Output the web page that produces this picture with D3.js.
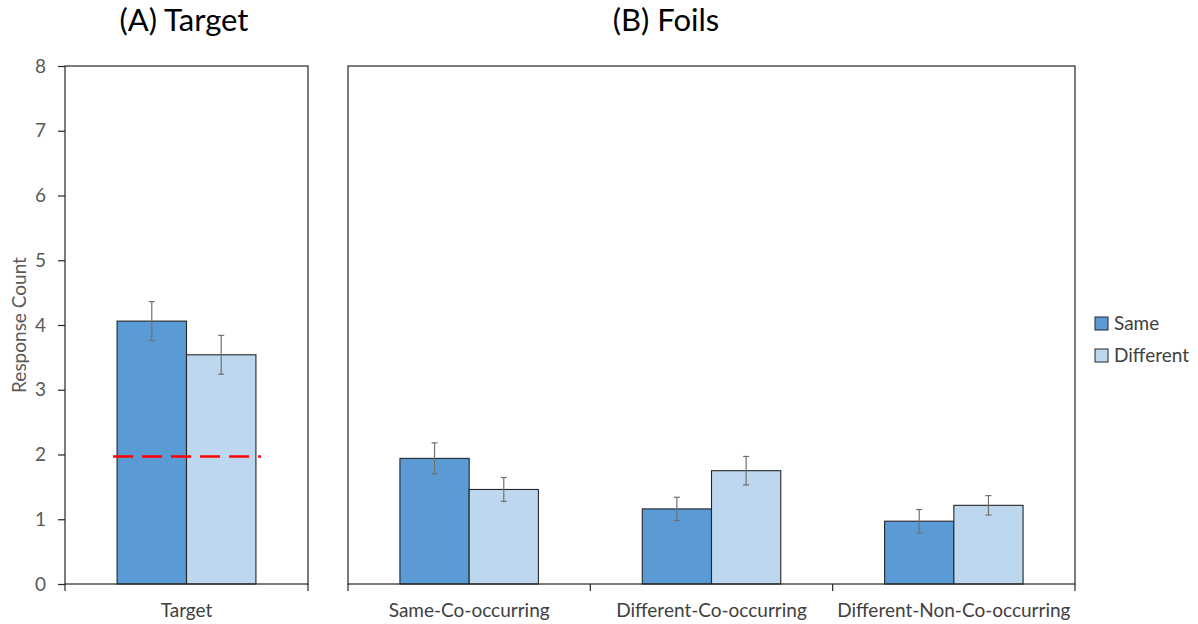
<!DOCTYPE html>
<html>
<head>
<meta charset="utf-8">
<script src="https://cdn.jsdelivr.net/npm/d3@7"></script>
<style>
  html, body { margin: 0; padding: 0; background: #fff; }
  svg { display: block; font-family: Lato, "Open Sans", sans-serif; }
</style>
</head>
<body>
<svg id="chart" width="1198" height="624"></svg>
<script>
// ---- Data ----
const targetCategories = ["Target"];
const foilCategories = ["Same-Co-occurring", "Different-Co-occurring", "Different-Non-Co-occurring"];
const seriesNames = ["Same", "Different"];
const targetSame = [4.06];
const targetDifferent = [3.54];
const targetSameErr = [0.30];
const targetDifferentErr = [0.30];
const foilSame = [1.94, 1.16, 0.97];
const foilDifferent = [1.46, 1.75, 1.215];
const foilSameErr = [0.24, 0.18, 0.18];
const foilDifferentErr = [0.185, 0.22, 0.15];
const chanceLevel = [1.97];
const yTicks = [0, 1, 2, 3, 4, 5, 6, 7, 8];
const panelTitles = ["(A) Target", "(B) Foils"];
const yLabel = "Response Count";

// ---- Layout ----
const svg = d3.select("#chart");
const plotTop = 66, plotBottom = 584;
const colors = { Same: "#5B9BD5", Different: "#BDD7EE" };
const y = d3.scaleLinear().domain([0, 8]).range([plotBottom, plotTop]);

function rows(cats, s, d, se, de) {
  return cats.map((c, i) => ({ cat: c, vals: [
    { key: "Same", v: s[i], e: se[i] },
    { key: "Different", v: d[i], e: de[i] }
  ]}));
}

function drawPanel(x0, x1, cats, data, title, titleX) {
  const x = d3.scaleBand().domain(cats).range([x0, x1]).paddingInner(0).paddingOuter(0);
  const inner = d3.scaleBand().domain(seriesNames).range([0, x.bandwidth()]).paddingInner(0).paddingOuter(0.75);
  const g = svg.append("g");

  const grp = g.selectAll("g.cat").data(data).join("g").attr("class", "cat")
    .attr("transform", d => `translate(${x(d.cat)},0)`);
  grp.selectAll("rect").data(d => d.vals).join("rect")
    .attr("x", d => inner(d.key))
    .attr("width", inner.bandwidth())
    .attr("y", d => y(d.v))
    .attr("height", d => y(0) - y(d.v))
    .attr("fill", d => colors[d.key])
    .attr("stroke", "#262626")
    .attr("stroke-width", 1.1);
  const eb = grp.selectAll("g.err").data(d => d.vals).join("g").attr("class", "err")
    .attr("transform", d => `translate(${inner(d.key) + inner.bandwidth() / 2},0)`)
    .attr("stroke", "#707070").attr("stroke-width", 1.2);
  eb.append("line").attr("y1", d => y(d.v + d.e)).attr("y2", d => y(d.v - d.e));
  eb.append("line").attr("x1", -3).attr("x2", 3).attr("y1", d => y(d.v + d.e)).attr("y2", d => y(d.v + d.e));
  eb.append("line").attr("x1", -3).attr("x2", 3).attr("y1", d => y(d.v - d.e)).attr("y2", d => y(d.v - d.e));

  g.append("rect").attr("x", x0).attr("y", plotTop).attr("width", x1 - x0).attr("height", plotBottom - plotTop)
    .attr("fill", "none").attr("stroke", "#262626").attr("stroke-width", 1.2);

  const xAxis = d3.axisBottom(x).tickSize(0).tickPadding(20);
  const ax = g.append("g").attr("transform", `translate(0,${plotBottom})`).call(xAxis);
  ax.select(".domain").remove();
  ax.selectAll("text").attr("font-size", 19).attr("fill", "#404040").attr("font-family", "Lato, sans-serif");
  const bounds = cats.map(c => x(c)).concat([x1]);
  g.selectAll("line.bt").data(bounds).join("line").attr("class", "bt")
    .attr("x1", d => d).attr("x2", d => d).attr("y1", plotBottom).attr("y2", plotBottom + 7)
    .attr("stroke", "#262626").attr("stroke-width", 1.2);

  svg.append("text").attr("x", titleX).attr("y", 31)
    .attr("text-anchor", "middle").attr("font-size", 31).attr("fill", "#000")
    .text(title);
  return { x, inner, g };
}

const panelA = drawPanel(65, 308, targetCategories,
  rows(targetCategories, targetSame, targetDifferent, targetSameErr, targetDifferentErr), panelTitles[0], 184);
const panelB = drawPanel(348, 1075, foilCategories,
  rows(foilCategories, foilSame, foilDifferent, foilSameErr, foilDifferentErr), panelTitles[1], 666);

const yAxis = d3.axisLeft(y).tickValues(yTicks).tickSize(7).tickPadding(12).tickFormat(d3.format("d"));
const yg = svg.append("g").attr("transform", "translate(65,0)").call(yAxis);
yg.select(".domain").remove();
yg.selectAll("line").attr("stroke", "#262626").attr("stroke-width", 1.2);
yg.selectAll("text").attr("font-size", 19).attr("fill", "#595959").attr("font-family", "Lato, sans-serif");

svg.append("text").attr("transform", `translate(26,${(plotTop + plotBottom) / 2}) rotate(-90)`)
  .attr("text-anchor", "middle").attr("font-size", 19).attr("fill", "#595959")
  .text(yLabel);

const bx = panelA.x("Target");
svg.selectAll("line.chance").data(chanceLevel).join("line").attr("class", "chance")
  .attr("x1", bx + panelA.inner("Same") - 4)
  .attr("x2", bx + panelA.inner("Different") + panelA.inner.bandwidth() + 5)
  .attr("y1", d => y(d)).attr("y2", d => y(d))
  .attr("stroke", "#FF0000").attr("stroke-width", 2.6).attr("stroke-dasharray", "20,9");

const lg = svg.append("g").attr("transform", "translate(1095,317)");
const li = lg.selectAll("g").data(seriesNames).join("g").attr("transform", (d, i) => `translate(0,${i * 32})`);
li.append("rect").attr("width", 13).attr("height", 13).attr("fill", d => colors[d])
  .attr("stroke", "#262626").attr("stroke-width", 1);
li.append("text").attr("x", 19).attr("y", 13).attr("font-size", 19).attr("fill", "#404040").text(d => d);
</script>
</body>
</html>
